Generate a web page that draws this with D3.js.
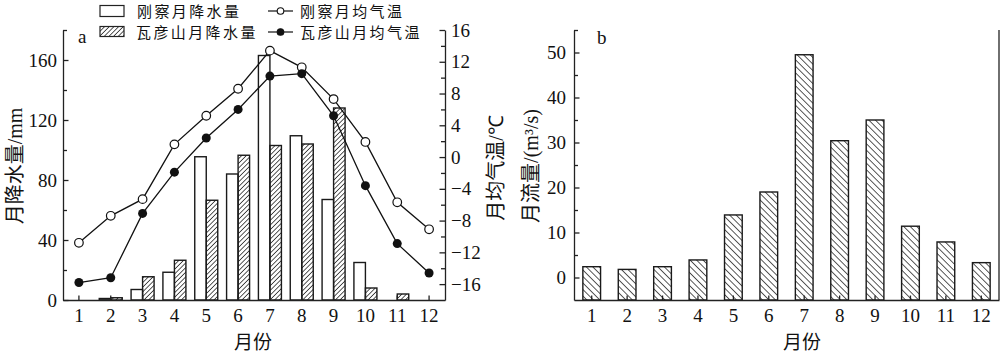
<!DOCTYPE html>
<html>
<head>
<meta charset="utf-8">
<script src="https://cdn.jsdelivr.net/npm/d3@7"></script>
<style>
  body { margin: 0; background: #fff; }
  svg { display: block; }
  .axis text { font-family: "Liberation Serif", serif; font-size: 19px; fill: #111; }
  .axis path, .axis line { stroke: #222; stroke-width: 1.3; }
  .cjk { font-family: "Noto Sans CJK SC", sans-serif; fill: #111; }
  .lat { font-family: "Liberation Serif", serif; fill: #111; }
  .ytitle { opacity: 0.99; }
</style>
</head>
<body>
<div id="chart"></div>
<script>
// monthly data
const months = [1, 2, 3, 4, 5, 6, 7, 8, 9, 10, 11, 12];
const gangchaPrecip = [0, 1, 7, 18.5, 95.5, 84, 163, 109.5, 67, 25, 0, 0];
const wayanshanPrecip = [0, 1.5, 15.5, 26.5, 66.5, 96.5, 103, 104, 128, 8, 4, 0];
const gangchaTemp = [-10.8, -7.4, -5.3, 1.6, 5.2, 8.6, 13.4, 11.3, 7.3, 1.9, -5.7, -9.1];
const wayanshanTemp = [-15.8, -15.2, -7.1, -1.9, 2.4, 6.0, 10.2, 10.5, 5.2, -3.6, -10.9, -14.6];
const runoff = [2.4, 1.8, 2.4, 3.9, 13.9, 19.0, 49.5, 30.4, 35.0, 11.4, 7.9, 3.3];

const precipTicks = [0, 40, 80, 120, 160];
const precipMinor = [20, 60, 100, 140, 180];
const tempTicks = [-16, -12, -8, -4, 0, 4, 8, 12, 16];
const tempMinor = [-14, -10, -6, -2, 2, 6, 10, 14];
const runoffTicks = [0, 10, 20, 30, 40, 50];
const runoffMinor = [5, 15, 25, 35, 45, 55];

const W = 1000, H = 354;
const svg = d3.select("#chart").append("svg").attr("width", W).attr("height", H);

// hatch patterns
const defs = svg.append("defs");
defs.append("pattern")
  .attr("id", "hatchA").attr("patternUnits", "userSpaceOnUse")
  .attr("width", 3.3).attr("height", 3.3).attr("patternTransform", "rotate(45)")
  .append("line").attr("x1", 0).attr("y1", 0).attr("x2", 0).attr("y2", 3.3)
  .attr("stroke", "#111").attr("stroke-width", 1.4);
defs.append("pattern")
  .attr("id", "hatchB").attr("patternUnits", "userSpaceOnUse")
  .attr("width", 4.6).attr("height", 4.6).attr("patternTransform", "rotate(-45)")
  .append("line").attr("x1", 0).attr("y1", 0).attr("x2", 0).attr("y2", 4.6)
  .attr("stroke", "#111").attr("stroke-width", 1.4);

function minorAxis(g, axis) {
  g.call(axis);
  g.select(".domain").remove();
}

// rotated axis title: CJK part + Latin part
function yTitle(g, x, y, cjk, latin) {
  const t = g.append("text").attr("class", "ytitle").attr("font-size", 20).attr("text-anchor", "middle")
    .attr("transform", `translate(${x},${y}) rotate(-90)`);
  t.append("tspan").attr("class", "cjk").text(cjk);
  t.append("tspan").attr("class", "lat").text(latin);
}

// ---------------- panel a ----------------
const plotTop = 30, plotBottom = 300;
const xA = d3.scaleBand().domain(months).range([63, 445]);
const yP = d3.scaleLinear().domain([0, 180]).range([plotBottom, plotTop]);
const yT = d3.scaleLinear().domain([-18, 16]).range([plotBottom, plotTop]);
const bw = xA.bandwidth();
const barW = 11.5;
const cx = m => xA(m) + bw / 2;

const a = svg.append("g");

const precipRows = months.map((m, i) => ({ m, g: gangchaPrecip[i], w: wayanshanPrecip[i] }));

a.selectAll(".barG").data(precipRows.filter(d => d.g > 0)).join("rect")
  .attr("x", d => cx(d.m) - barW).attr("width", barW)
  .attr("y", d => yP(d.g)).attr("height", d => yP(0) - yP(d.g))
  .attr("fill", "#fff").attr("stroke", "#1a1a1a").attr("stroke-width", 1.4);

a.selectAll(".barW").data(precipRows.filter(d => d.w > 0)).join("rect")
  .attr("x", d => cx(d.m)).attr("width", barW)
  .attr("y", d => yP(d.w)).attr("height", d => yP(0) - yP(d.w))
  .attr("fill", "url(#hatchA)").attr("stroke", "#1a1a1a").attr("stroke-width", 1.4);

// axes
a.append("g").attr("class", "axis").attr("transform", `translate(63,0)`)
  .call(d3.axisLeft(yP).tickValues(precipTicks).tickSize(-5.5).tickSizeOuter(0).tickPadding(6));
a.append("g").attr("class", "axis").attr("transform", `translate(63,0)`)
  .call(g => minorAxis(g, d3.axisLeft(yP).tickValues(precipMinor).tickSize(-4).tickFormat("")));

a.append("g").attr("class", "axis").attr("transform", `translate(445,0)`)
  .call(d3.axisRight(yT).tickValues(tempTicks).tickSize(-5.5).tickSizeOuter(0).tickPadding(6));
a.append("g").attr("class", "axis").attr("transform", `translate(445,0)`)
  .call(g => minorAxis(g, d3.axisRight(yT).tickValues(tempMinor).tickSize(-4).tickFormat("")));

a.append("g").attr("class", "axis").attr("transform", `translate(0,${plotBottom})`)
  .call(d3.axisBottom(xA).tickSize(-4.5).tickSizeOuter(0).tickPadding(9));

// temperature lines
const line = d3.line().x(d => cx(d.m)).y(d => yT(d.t));
const gT = months.map((m, i) => ({ m, t: gangchaTemp[i] }));
const wT = months.map((m, i) => ({ m, t: wayanshanTemp[i] }));

a.append("path").datum(gT).attr("d", line).attr("fill", "none").attr("stroke", "#111").attr("stroke-width", 1.3);
a.append("path").datum(wT).attr("d", line).attr("fill", "none").attr("stroke", "#111").attr("stroke-width", 1.3);
a.selectAll(".ptG").data(gT).join("circle")
  .attr("cx", d => cx(d.m)).attr("cy", d => yT(d.t)).attr("r", 4.3)
  .attr("fill", "#fff").attr("stroke", "#111").attr("stroke-width", 1.2);
a.selectAll(".ptW").data(wT).join("circle")
  .attr("cx", d => cx(d.m)).attr("cy", d => yT(d.t)).attr("r", 4.5)
  .attr("fill", "#111");

// panel label & titles
a.append("text").attr("class", "lat").attr("x", 78).attr("y", 43).attr("font-size", 19).text("a");
yTitle(a, 22, 166, "月降水量", "/mm");
yTitle(a, 503, 168, "月均气温", "/℃");
a.append("text").attr("class", "cjk").attr("font-size", 19)
  .attr("x", 253).attr("y", 349).attr("text-anchor", "middle").text("月份");

// legend
const lg = a.append("g").attr("class", "cjk").attr("font-size", 15).attr("letter-spacing", 2.4);
lg.append("rect").attr("x", 100).attr("y", 5.5).attr("width", 24).attr("height", 11)
  .attr("fill", "#fff").attr("stroke", "#222").attr("stroke-width", 1.2);
lg.append("rect").attr("x", 100).attr("y", 26.5).attr("width", 24).attr("height", 10)
  .attr("fill", "url(#hatchA)").attr("stroke", "#222").attr("stroke-width", 1.2);
lg.append("text").attr("x", 137).attr("y", 17).text("刚察月降水量");
lg.append("text").attr("x", 136).attr("y", 38).text("瓦彦山月降水量");
[[11, "#fff"], [32, "#111"]].forEach(([ly, fill]) => {
  lg.append("line").attr("x1", 268).attr("x2", 293).attr("y1", ly).attr("y2", ly)
    .attr("stroke", "#111").attr("stroke-width", 1.2);
  lg.append("circle").attr("cx", 280.5).attr("cy", ly).attr("r", 3.3)
    .attr("fill", fill).attr("stroke", "#111").attr("stroke-width", 1.1);
});
lg.append("text").attr("x", 300).attr("y", 17).text("刚察月均气温");
lg.append("text").attr("x", 300).attr("y", 38).text("瓦彦山月均气温");

// ---------------- panel b ----------------
const xB = d3.scaleBand().domain(months).range([574, 999]);
const yQ = d3.scaleLinear().domain([-5, 55]).range([plotBottom, plotTop]);
const b = svg.append("g");
const runRows = months.map((m, i) => ({ m, q: runoff[i] }));
const bwB = xB.bandwidth() * 0.5;

b.selectAll(".barQ").data(runRows).join("rect")
  .attr("x", d => xB(d.m) + xB.bandwidth() / 2 - bwB / 2).attr("width", bwB)
  .attr("y", d => yQ(d.q)).attr("height", d => yQ(-5) - yQ(d.q))
  .attr("fill", "url(#hatchB)").attr("stroke", "#1a1a1a").attr("stroke-width", 1.4);

b.append("g").attr("class", "axis").attr("transform", `translate(574,0)`)
  .call(d3.axisLeft(yQ).tickValues(runoffTicks).tickSize(-5.5).tickSizeOuter(0).tickPadding(8));
b.append("g").attr("class", "axis").attr("transform", `translate(574,0)`)
  .call(g => minorAxis(g, d3.axisLeft(yQ).tickValues(runoffMinor).tickSize(-4).tickFormat("")));
b.append("g").attr("class", "axis").attr("transform", `translate(0,${plotBottom})`)
  .call(d3.axisBottom(xB).tickSize(-4.5).tickSizeOuter(0).tickPadding(9));
b.append("line").attr("x1", 999).attr("x2", 999).attr("y1", plotTop).attr("y2", plotBottom)
  .attr("stroke", "#222").attr("stroke-width", 1.3);

b.append("text").attr("class", "lat").attr("x", 597).attr("y", 44).attr("font-size", 19).text("b");
yTitle(b, 538, 166, "月流量", "/(m³/s)");
b.append("text").attr("class", "cjk").attr("font-size", 19)
  .attr("x", 802).attr("y", 349).attr("text-anchor", "middle").text("月份");
</script>
</body>
</html>
